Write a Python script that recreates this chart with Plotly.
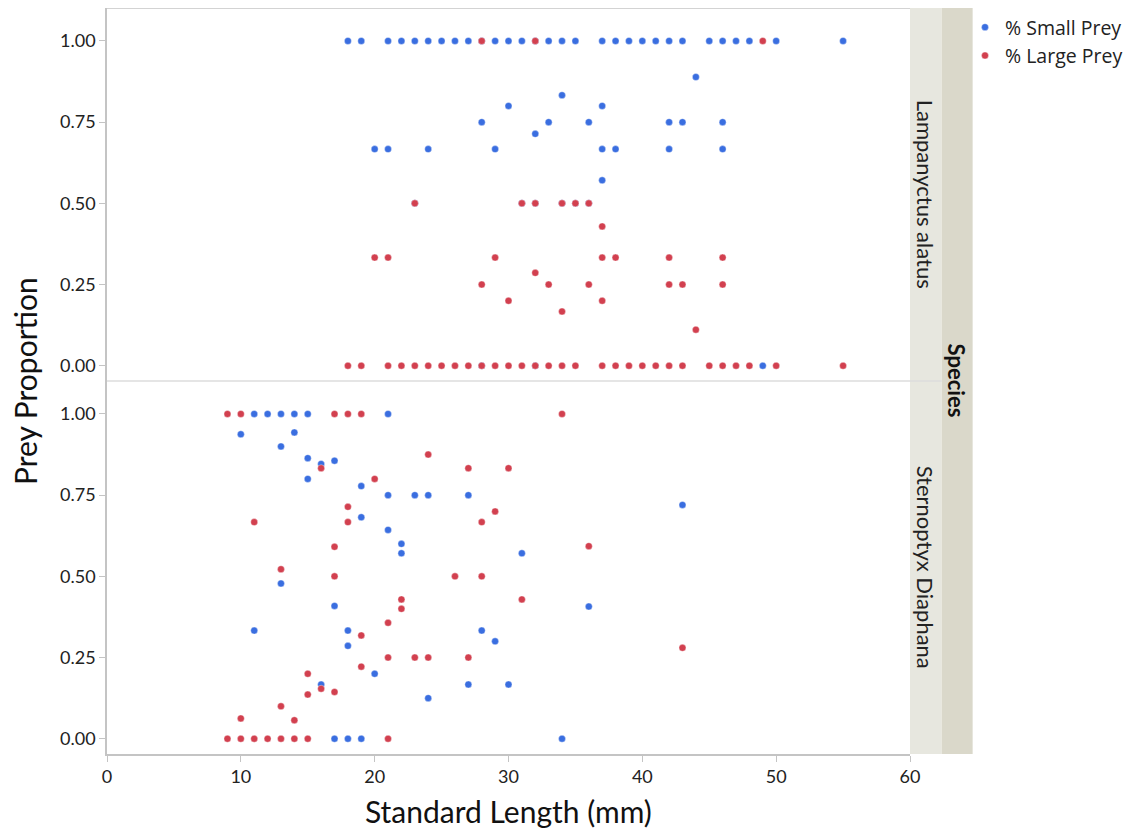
import plotly.graph_objects as go
from plotly.subplots import make_subplots

# ---------------- Data ----------------
species = ["Lampanyctus alatus", "Sternoptyx Diaphana"]
series_names = ["% Small Prey", "% Large Prey"]
x_ticks = [0, 10, 20, 30, 40, 50, 60]
y_ticks = [0.0, 0.25, 0.5, 0.75, 1.0]
y_tick_text = ["0.00", "0.25", "0.50", "0.75", "1.00"]

# Lampanyctus alatus
la_small_x = [18, 19, 21, 22, 23, 24, 25, 26, 27, 28, 29, 30, 31, 32, 33, 34, 35, 37, 38, 39, 40,
              41, 42, 43, 45, 46, 47, 48, 50, 55,
              44, 34, 30, 37, 28, 33, 36, 42, 43, 46, 32,
              20, 21, 24, 29, 37, 38, 42, 46, 37,
              23, 31, 32, 34, 35, 36,
              49, 28, 32]
la_small_y = [1, 1, 1, 1, 1, 1, 1, 1, 1, 1, 1, 1, 1, 1, 1, 1, 1, 1, 1, 1, 1,
              1, 1, 1, 1, 1, 1, 1, 1, 1,
              0.889, 0.833, 0.80, 0.80, 0.75, 0.75, 0.75, 0.75, 0.75, 0.75, 0.714,
              0.667, 0.667, 0.667, 0.667, 0.667, 0.667, 0.667, 0.667, 0.571,
              0.5, 0.5, 0.5, 0.5, 0.5, 0.5,
              0, 0, 0]
la_large_x = [28, 32, 49,
              23, 31, 32, 34, 35, 36,
              37, 20, 21, 29, 37, 38, 42, 46, 32,
              28, 33, 36, 42, 43, 46, 30, 37, 34, 44,
              18, 19, 21, 22, 23, 24, 25, 26, 27, 28, 29, 30, 31, 32, 33, 34, 35, 37, 38, 39, 40,
              41, 42, 43, 45, 46, 47, 48, 50, 55]
la_large_y = [1, 1, 1,
              0.5, 0.5, 0.5, 0.5, 0.5, 0.5,
              0.429, 0.333, 0.333, 0.333, 0.333, 0.333, 0.333, 0.333, 0.286,
              0.25, 0.25, 0.25, 0.25, 0.25, 0.25, 0.20, 0.20, 0.167, 0.111,
              0, 0, 0, 0, 0, 0, 0, 0, 0, 0, 0, 0, 0, 0, 0, 0, 0, 0, 0, 0, 0,
              0, 0, 0, 0, 0, 0, 0, 0, 0]

# Sternoptyx Diaphana
sd_small_x = [11, 12, 13, 14, 15, 21,
              10, 14, 13, 15, 16, 17, 15, 19,
              21, 23, 24, 27, 43, 19, 21, 22, 22, 31,
              13, 17, 36, 11, 18, 28, 29, 18, 20,
              16, 27, 30, 24,
              17, 18, 19, 34]
sd_small_y = [1, 1, 1, 1, 1, 1,
              0.9375, 0.943, 0.90, 0.864, 0.846, 0.856, 0.80, 0.778,
              0.75, 0.75, 0.75, 0.75, 0.72, 0.682, 0.643, 0.60, 0.571, 0.571,
              0.478, 0.409, 0.407, 0.333, 0.333, 0.333, 0.30, 0.286, 0.20,
              0.167, 0.167, 0.167, 0.125,
              0, 0, 0, 0]
sd_large_x = [9, 10, 17, 18, 19, 34,
              24, 16, 27, 30, 20, 18, 29, 11, 18, 28,
              36, 17, 13, 17, 26, 28, 22, 31, 22, 21, 19, 43,
              21, 23, 24, 27, 19, 15, 16, 17, 15, 13, 10, 14,
              9, 10, 11, 12, 13, 14, 15, 21]
sd_large_y = [1, 1, 1, 1, 1, 1,
              0.875, 0.833, 0.833, 0.833, 0.80, 0.714, 0.70, 0.667, 0.667, 0.667,
              0.593, 0.591, 0.522, 0.5, 0.5, 0.5, 0.429, 0.429, 0.40, 0.357, 0.318, 0.28,
              0.25, 0.25, 0.25, 0.25, 0.222, 0.20, 0.154, 0.144, 0.136, 0.10, 0.0625, 0.057,
              0, 0, 0, 0, 0, 0, 0, 0]

BLUE = "#3a6ee0"
RED = "#d2404f"
FONT = "Lato"
LEG_FONT = "Open Sans"

fig = make_subplots(rows=2, cols=1, shared_xaxes=True, vertical_spacing=0)

panels = [
    (1, la_small_x, la_small_y, la_large_x, la_large_y),
    (2, sd_small_x, sd_small_y, sd_large_x, sd_large_y),
]
for row, sx, sy, lx, ly in panels:
    fig.add_trace(go.Scatter(x=sx, y=sy, mode="markers", name=series_names[0],
                             legendgroup="s", showlegend=(row == 1),
                             marker=dict(color=BLUE, size=7,
                                         line=dict(color="rgba(255,255,255,0.6)", width=0.6))),
                  row=row, col=1)
    fig.add_trace(go.Scatter(x=lx, y=ly, mode="markers", name=series_names[1],
                             legendgroup="l", showlegend=(row == 1),
                             marker=dict(color=RED, size=7,
                                         line=dict(color="rgba(255,255,255,0.6)", width=0.6))),
                  row=row, col=1)

axis_col = "#c4c4c4"
yax = dict(range=[-0.047, 1.1015], tickvals=y_ticks, ticktext=y_tick_text,
           showgrid=False, zeroline=False, showline=True, linecolor=axis_col, linewidth=1.5,
           ticks="outside", ticklen=6, tickcolor=axis_col,
           tickfont=dict(family=FONT, size=18, color="#222"))
fig.update_yaxes(**yax)
fig.update_xaxes(range=[0, 60], tickvals=x_ticks, showgrid=False, zeroline=False,
                 tickfont=dict(family=FONT, size=18, color="#222"))
fig.update_xaxes(showline=False, ticks="", showticklabels=False, row=1, col=1)
fig.update_xaxes(showline=True, linecolor=axis_col, linewidth=1.5, ticks="outside",
                 ticklen=6, tickcolor=axis_col, row=2, col=1)

shapes = [
    # light strip
    dict(type="rect", xref="paper", yref="paper", x0=1.0, x1=1.0395, y0=0, y1=1,
         fillcolor="#e7e7df", line=dict(width=0), layer="below"),
    # dark strip
    dict(type="rect", xref="paper", yref="paper", x0=1.0395, x1=1.078, y0=0, y1=1,
         fillcolor="#dad8ca", line=dict(width=0), layer="below"),
    # top border
    dict(type="line", xref="paper", yref="paper", x0=0, x1=1.0, y0=1, y1=1,
         line=dict(color=axis_col, width=1.5)),
    # panel separator
    dict(type="line", xref="paper", yref="paper", x0=0, x1=1.0395, y0=0.5, y1=0.5,
         line=dict(color="#dcdcdc", width=1.5)),
]

annotations = [
    dict(text=species[0], xref="paper", yref="paper", x=1.0197, y=0.75, showarrow=False,
         textangle=90, font=dict(family=FONT, size=22, color="#222"),
         xanchor="center", yanchor="middle"),
    dict(text=species[1], xref="paper", yref="paper", x=1.0197, y=0.25, showarrow=False,
         textangle=90, font=dict(family=FONT, size=22, color="#222"),
         xanchor="center", yanchor="middle"),
    dict(text="<b>Species</b>", xref="paper", yref="paper", x=1.059, y=0.5, showarrow=False,
         textangle=90, font=dict(family=FONT, size=22, color="#111"),
         xanchor="center", yanchor="middle"),
    dict(text="Prey Proportion", xref="paper", yref="paper", x=-0.102, y=0.5,
         showarrow=False, textangle=-90, font=dict(family=FONT, size=30, color="#111"),
         xanchor="center", yanchor="middle"),
    dict(text="Standard Length (mm)", xref="paper", yref="paper", x=0.5, y=-0.077,
         showarrow=False, font=dict(family=FONT, size=30, color="#111"),
         xanchor="center", yanchor="middle"),
]

fig.update_layout(
    width=1127, height=821,
    margin=dict(l=99, r=225, t=0, b=75),
    paper_bgcolor="white", plot_bgcolor="white",
    shapes=shapes, annotations=annotations,
    legend=dict(x=1.0685, y=1.0, xanchor="left", yanchor="top",
                font=dict(family=LEG_FONT, size=19.5, color="#222"),
                itemsizing="trace", tracegroupgap=0, bgcolor="rgba(0,0,0,0)"),
    showlegend=True,
)

fig.write_html("out.html")
